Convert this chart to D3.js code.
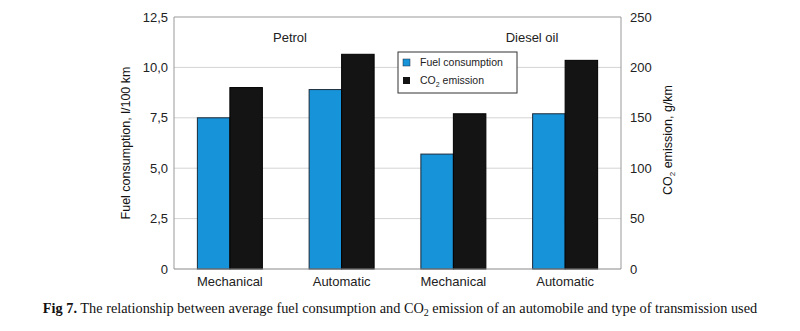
<!DOCTYPE html>
<html><head><meta charset="utf-8">
<script src="https://cdn.jsdelivr.net/npm/d3@7/dist/d3.min.js"></script>
<style>body{margin:0;background:#fff}svg{display:block}</style>
</head><body>
<svg id="c" width="800" height="331"></svg>
<script>
const categories = ["Mechanical","Automatic","Mechanical","Automatic"];
const fuelGroups = ["Petrol","Diesel oil"];
const fuelConsumption = [7.5, 8.9, 5.7, 7.7];
const co2Emission = [180, 213, 154, 207];
const leftTicks = [0, 2.5, 5, 7.5, 10, 12.5];
const rightTicks = [0, 50, 100, 150, 200, 250];

const svg = d3.select("#c");
const L = 174, R = 621, T = 17, B = 269;
const font = "Liberation Sans, Arial, sans-serif";

const x = d3.scaleBand().domain(d3.range(categories.length)).range([L, R]).paddingInner(0).paddingOuter(0);
const yL = d3.scaleLinear().domain([0, 12.5]).range([B, T]);
const yR = d3.scaleLinear().domain([0, 250]).range([B, T]);
const barW = 32.5;

// gridlines
svg.append("g").selectAll("line").data(leftTicks.filter(d => d > 0 && d < 12.5)).join("line")
  .attr("x1", L).attr("x2", R).attr("y1", d => yL(d)).attr("y2", d => yL(d))
  .attr("stroke", "#d4d4d4").attr("stroke-width", 1);

// frame
svg.append("line").attr("x1", L).attr("x2", R).attr("y1", T).attr("y2", T).attr("stroke", "#999");
svg.append("line").attr("x1", L).attr("x2", L).attr("y1", T).attr("y2", B).attr("stroke", "#999");
svg.append("line").attr("x1", R).attr("x2", R).attr("y1", T).attr("y2", B).attr("stroke", "#999");

const fmt = d => d === 0 ? "0" : d3.format(".1f")(d).replace(".", ",");

// bars
const g = svg.append("g");
g.selectAll("rect.fuel").data(fuelConsumption).join("rect").attr("class","fuel")
  .attr("x", (d,i) => x(i) + x.bandwidth()/2 - barW)
  .attr("y", d => yL(d)).attr("width", barW).attr("height", d => B - yL(d))
  .attr("fill", "#1793d9").attr("stroke", "#1a2a3a").attr("stroke-width", 1);
g.selectAll("rect.co2").data(co2Emission).join("rect").attr("class","co2")
  .attr("x", (d,i) => x(i) + x.bandwidth()/2)
  .attr("y", d => yR(d)).attr("width", barW).attr("height", d => B - yR(d))
  .attr("fill", "#141414").attr("stroke", "#000").attr("stroke-width", 1);

// baseline
svg.append("line").attr("x1", L).attr("x2", R).attr("y1", B).attr("y2", B).attr("stroke", "#888");

// left axis
const la = svg.append("g").attr("transform", `translate(${L},0)`)
  .call(d3.axisLeft(yL).tickValues(leftTicks).tickFormat(fmt).tickSize(0).tickPadding(6));
la.select(".domain").remove();
la.selectAll("text").attr("font-family", font).attr("font-size", 13).attr("fill", "#222");

// right axis
const ra = svg.append("g").attr("transform", `translate(${R},0)`)
  .call(d3.axisRight(yR).tickValues(rightTicks).tickFormat(d3.format("d")).tickSize(0).tickPadding(9));
ra.select(".domain").remove();
ra.selectAll("text").attr("font-family", font).attr("font-size", 13).attr("fill", "#222");

// bottom axis
const ba = svg.append("g").attr("transform", `translate(0,${B})`)
  .call(d3.axisBottom(x).tickFormat(i => categories[i]).tickSize(0).tickPadding(8));
ba.select(".domain").remove();
ba.selectAll("text").attr("font-family", font).attr("font-size", 13).attr("fill", "#222");

// group labels
svg.selectAll("text.grp").data(fuelGroups).join("text").attr("class","grp")
  .attr("x", (d,i) => i === 0 ? 290 : 532).attr("y", 42)
  .attr("text-anchor", "middle").attr("font-family", font).attr("font-size", 13).attr("fill", "#222")
  .text(d => d);

// axis titles
svg.append("text").attr("transform", `translate(130,${(T+B)/2}) rotate(-90)`)
  .attr("text-anchor", "middle").attr("font-family", font).attr("font-size", 12.5).attr("fill", "#111")
  .text("Fuel consumption, l/100 km");
const rt = svg.append("text").attr("transform", `translate(672,${(T+B)/2 - 3}) rotate(-90)`)
  .attr("text-anchor", "middle").attr("font-family", font).attr("font-size", 12.5).attr("fill", "#111");
rt.append("tspan").text("CO");
rt.append("tspan").attr("font-size", 8).attr("dy", 3).text("2");
rt.append("tspan").attr("dy", -3).text(" emission, g/km");

// legend
const lg = svg.append("g");
lg.append("rect").attr("x", 398).attr("y", 52).attr("width", 119).attr("height", 41)
  .attr("fill", "#fff").attr("stroke", "#333").attr("stroke-width", 1);
lg.append("rect").attr("x", 403).attr("y", 59).attr("width", 7).attr("height", 7).attr("fill", "#1793d9").attr("stroke", "#1a2a3a").attr("stroke-width", 0.5);
lg.append("rect").attr("x", 403).attr("y", 77).attr("width", 7).attr("height", 7).attr("fill", "#141414");
lg.append("text").attr("x", 420).attr("y", 66).attr("font-family", font).attr("font-size", 10.5).attr("fill", "#222").text("Fuel consumption");
const lt = lg.append("text").attr("x", 420).attr("y", 84).attr("font-family", font).attr("font-size", 10.5).attr("fill", "#222");
lt.append("tspan").text("CO");
lt.append("tspan").attr("font-size", 7).attr("dy", 3).text("2");
lt.append("tspan").attr("dy", -3).text(" emission");

// caption
const cap = svg.append("text").attr("x", 400).attr("y", 313).attr("text-anchor", "middle")
  .attr("font-family", "Liberation Serif, Times New Roman, serif").attr("font-size", 14.3).attr("fill", "#111");
cap.append("tspan").attr("font-weight", "bold").text("Fig 7.");
cap.append("tspan").text(" The relationship between average fuel consumption and CO");
cap.append("tspan").attr("font-size", 10).attr("dy", 3).text("2");
cap.append("tspan").attr("dy", -3).text(" emission of an automobile and type of transmission used");
</script>
</body></html>
